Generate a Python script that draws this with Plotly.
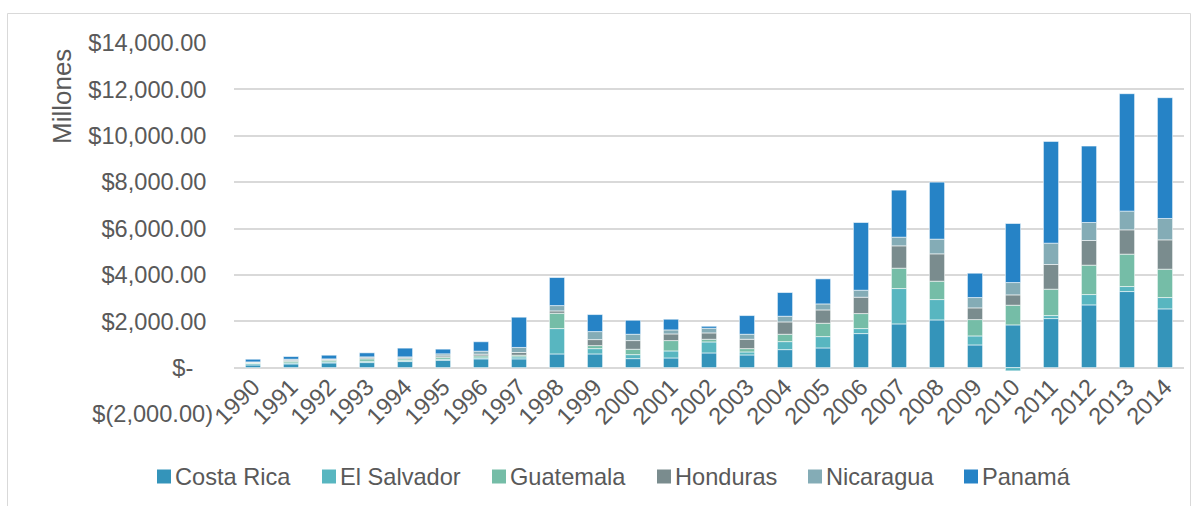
import plotly.graph_objects as go

years = [str(y) for y in range(1990, 2015)]

costa_rica = [116, 160, 203, 217, 261, 319, 377, 377, 590, 590, 389, 417, 633, 547, 777, 849,
              1468, 1885, 2058, 978, 1842, 2115, 2705, 3281, 2533]
el_salvador = [58, 43, 43, 58, 43, 43, 43, 87, 1094, 230, 172, 303, 475, 129, 345, 489,
               216, 1525, 877, 389, -140, 130, 446, 216, 489]
guatemala = [29, 72, 73, 102, 73, 87, 87, 72, 661, 130, 231, 446, 115, 144, 317, 576,
             647, 878, 792, 705, 849, 1137, 1267, 1396, 1223]
honduras = [29, 44, 43, 43, 43, 58, 73, 116, 101, 259, 374, 287, 274, 403, 532, 575,
            705, 964, 1180, 504, 446, 1064, 1065, 1050, 1266]
nicaragua = [14, 43, 15, 44, 44, 87, 130, 218, 230, 345, 273, 173, 201, 216, 245, 259,
             302, 374, 633, 446, 532, 921, 777, 806, 921]
panama = [116, 116, 159, 174, 377, 203, 406, 1305, 1209, 734, 604, 461, 86, 806, 1022, 1080,
          2921, 2029, 2460, 1050, 2547, 4390, 3295, 5065, 5210]

series_names = ["Costa Rica", "El Salvador", "Guatemala", "Honduras", "Nicaragua", "Panamá"]
series_values = [costa_rica, el_salvador, guatemala, honduras, nicaragua, panama]
series_colors = ["#3494BA", "#58B6C0", "#75BDA7", "#7A8C8E", "#84ACB6", "#2683C6"]

tick_vals = [14000, 12000, 10000, 8000, 6000, 4000, 2000, 0, -2000]
tick_text = ["$14,000.00\u00a0", "$12,000.00\u00a0", "$10,000.00\u00a0", "$8,000.00\u00a0",
             "$6,000.00\u00a0", "$4,000.00\u00a0", "$2,000.00\u00a0", "$-\u00a0\u00a0\u00a0",
             "$(2,000.00)"]

# legend layout (pixel left edge of each legend square)
legend_x = [157, 322, 492, 657, 808, 964]

FONT = "Liberation Sans, Arial, sans-serif"
TXT = "#595959"
GRID = "#D9D9D9"

W, H = 1198, 506
L, R, T, B = 234, 14, 43, 92
pw = W - L - R
ph = H - T - B


def px_x(x):
    return (x - L) / pw


def px_y(y):
    return (H - B - y) / ph


fig = go.Figure()
for name, vals, col in zip(series_names, series_values, series_colors):
    fig.add_trace(go.Bar(
        x=years, y=vals, name=name, showlegend=False,
        marker=dict(color=col, line=dict(color="rgba(255,255,255,0.7)", width=0.8)),
    ))

annotations = [dict(
    text="Millones", xref="paper", yref="paper",
    x=px_x(62), y=px_y(97), xanchor="center", yanchor="middle",
    textangle=-90, showarrow=False,
    font=dict(family=FONT, color=TXT, size=26),
)]
shapes = [dict(
    type="rect", xref="paper", yref="paper",
    x0=px_x(7.5), x1=px_x(1190.5), y0=px_y(13.5), y1=px_y(530),
    line=dict(color=GRID, width=1), fillcolor="rgba(0,0,0,0)", layer="below",
)]

SQ = 14
LY = 476.5
for name, col, lx in zip(series_names, series_colors, legend_x):
    shapes.append(dict(
        type="rect", xref="paper", yref="paper",
        x0=px_x(lx), x1=px_x(lx + SQ), y0=px_y(LY + SQ / 2), y1=px_y(LY - SQ / 2),
        line=dict(width=0), fillcolor=col,
    ))
    annotations.append(dict(
        text=name, xref="paper", yref="paper",
        x=px_x(lx + SQ + 3), y=px_y(LY), xanchor="left", yanchor="middle",
        showarrow=False, borderpad=0,
        font=dict(family=FONT, color=TXT, size=23.6),
    ))

fig.update_layout(
    width=W, height=H,
    barmode="relative",
    bargap=0.6,
    plot_bgcolor="white", paper_bgcolor="white",
    margin=dict(l=L, r=R, t=T, b=B, autoexpand=False),
    font=dict(family=FONT, color=TXT, size=23.6),
    showlegend=False,
    xaxis=dict(
        type="category",
        tickangle=-45,
        anchor="free", position=2000 / 16000,
        showgrid=False, showline=False, ticks="",
        automargin=False,
        tickfont=dict(family=FONT, color=TXT, size=23.6),
    ),
    yaxis=dict(
        range=[-2000, 14000],
        tickvals=tick_vals, ticktext=tick_text,
        showgrid=True, gridcolor=GRID, gridwidth=1.5,
        zeroline=True, zerolinecolor=GRID, zerolinewidth=1.5,
        showline=False, ticks="",
        ticklabelstandoff=20,
        automargin=False,
        tickfont=dict(family=FONT, color=TXT, size=23.6),
    ),
    annotations=annotations,
    shapes=shapes,
)

fig.write_html("out.html")
